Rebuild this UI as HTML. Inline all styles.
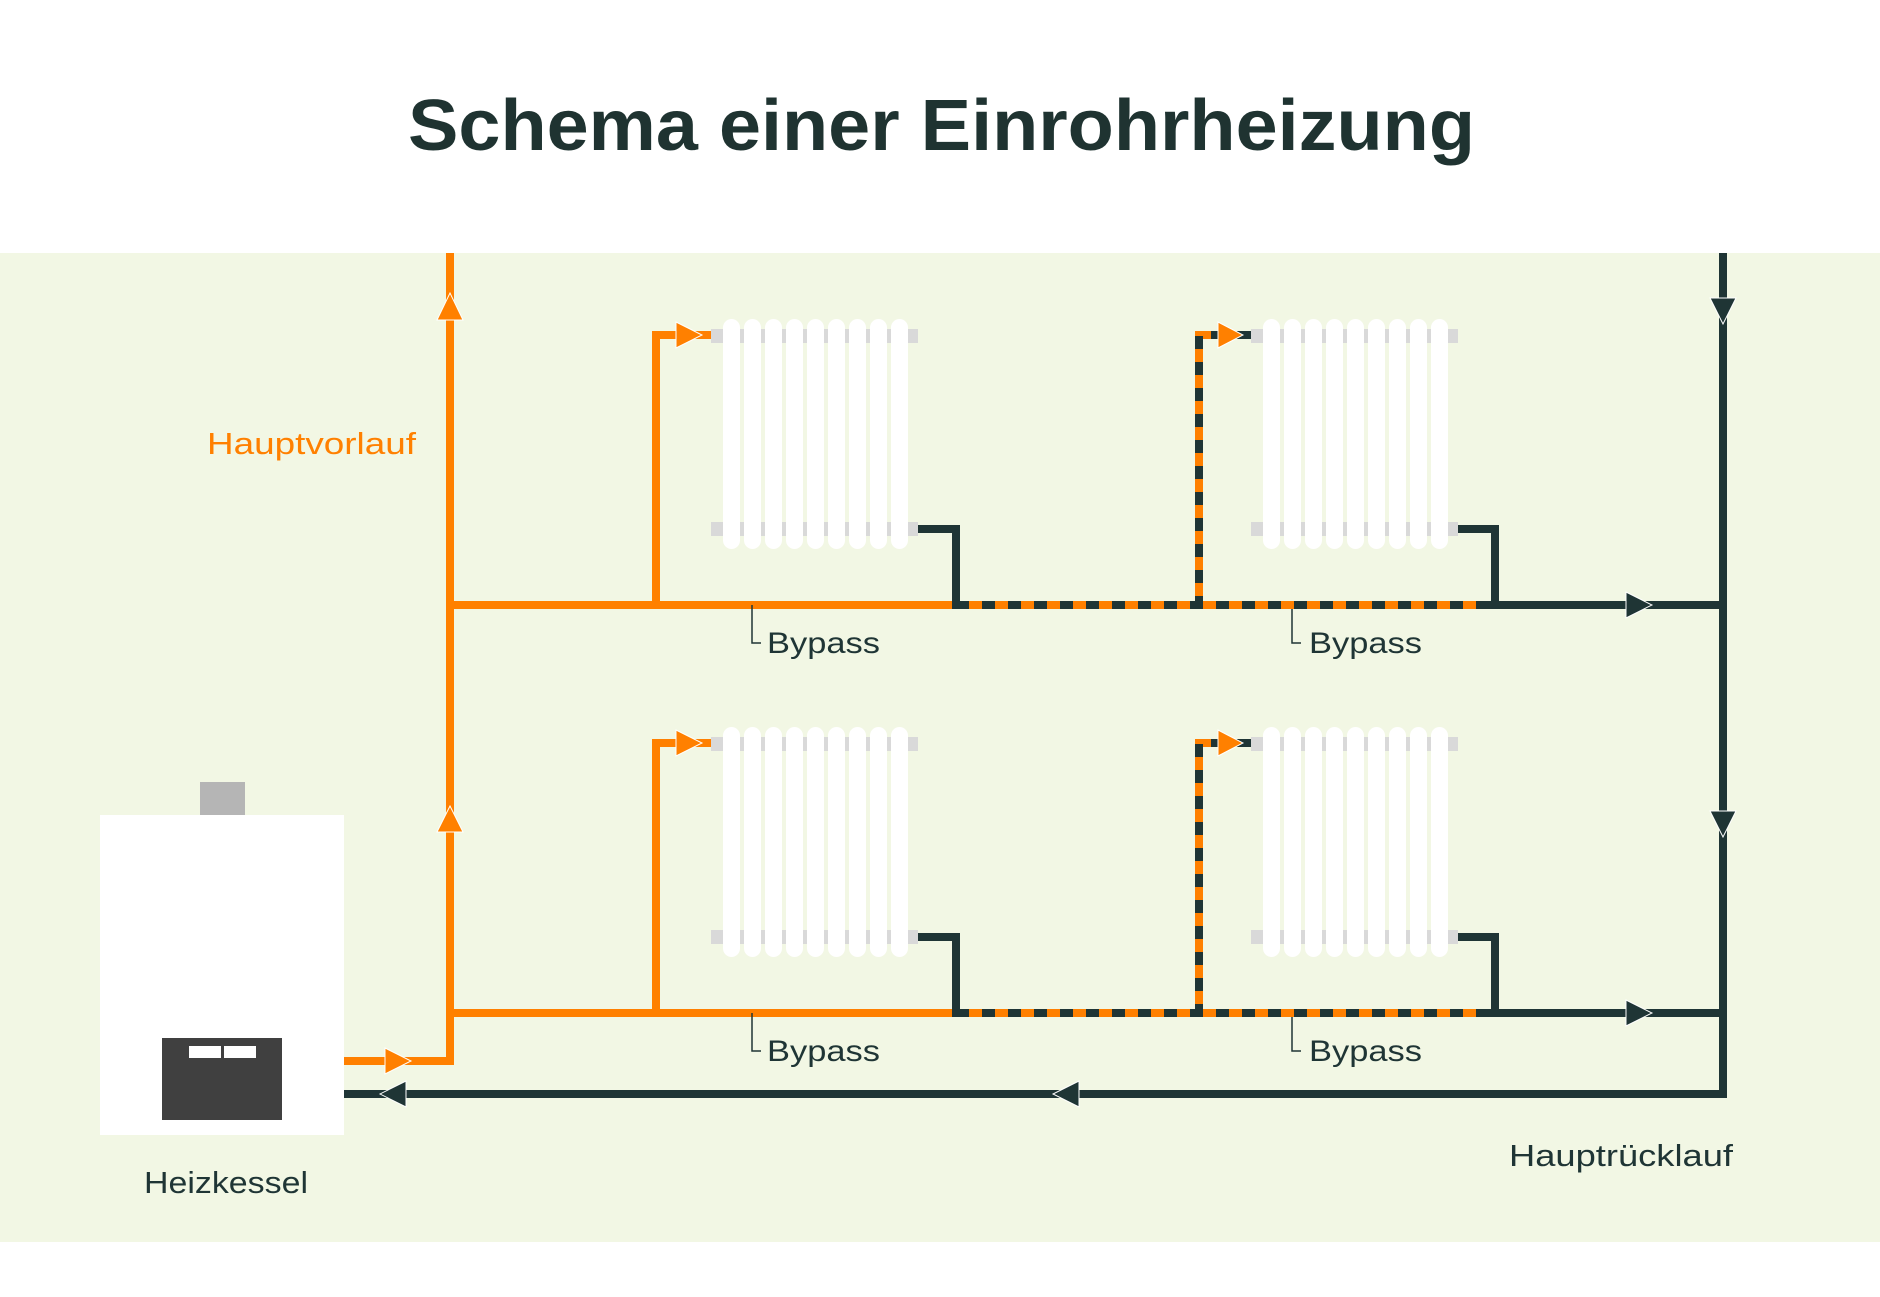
<!DOCTYPE html>
<html><head><meta charset="utf-8"><style>
html,body{margin:0;padding:0;background:#fff;}
svg{display:block;}
text{font-family:"Liberation Sans",sans-serif;}
</style></head><body>
<svg width="1880" height="1297" viewBox="0 0 1880 1297" xmlns="http://www.w3.org/2000/svg">
<defs>
<g id="rad">
  <rect x="711" y="329" width="207" height="14" fill="#d9d9d9"/>
  <rect x="711" y="522" width="207" height="14" fill="#d9d9d9"/>
  <g fill="#ffffff">
    <rect x="723" y="319" width="17" height="230" rx="8.5"/>
    <rect x="744" y="319" width="17" height="230" rx="8.5"/>
    <rect x="765" y="319" width="17" height="230" rx="8.5"/>
    <rect x="786" y="319" width="17" height="230" rx="8.5"/>
    <rect x="807" y="319" width="17" height="230" rx="8.5"/>
    <rect x="828" y="319" width="17" height="230" rx="8.5"/>
    <rect x="849" y="319" width="17" height="230" rx="8.5"/>
    <rect x="870" y="319" width="17" height="230" rx="8.5"/>
    <rect x="891" y="319" width="17" height="230" rx="8.5"/>
  </g>
</g>
<g id="row">
  <line x1="450" y1="605" x2="958" y2="605" stroke="#ff8000" stroke-width="8"/>
  <line x1="956" y1="605" x2="1487" y2="605" stroke="#ff8000" stroke-width="8"/>
  <line x1="956" y1="605" x2="1487" y2="605" stroke="#1f3535" stroke-width="8" stroke-dasharray="13 13"/>
  <line x1="1485" y1="605" x2="1723" y2="605" stroke="#1f3535" stroke-width="8"/>
  <polygon points="1626,592 1652,605 1626,618" fill="#1f3535" stroke="#fff" stroke-width="1"/>
  <polyline points="656,609 656,335 690,335" fill="none" stroke="#ff8000" stroke-width="8"/>
  <line x1="690" y1="335" x2="712" y2="335" stroke="#ff8000" stroke-width="8"/>
  <polygon points="676,322 702,335 676,348" fill="#ff8000" stroke="#fff" stroke-width="1"/>
  <use href="#rad"/>
  <polyline points="918,529 956,529 956,609" fill="none" stroke="#1f3535" stroke-width="8"/>
  <polyline points="1199,609 1199,335 1230,335" fill="none" stroke="#ff8000" stroke-width="8"/>
  <polyline points="1199,609 1199,335 1230,335" fill="none" stroke="#1f3535" stroke-width="8" stroke-dasharray="13 13"/>
  <line x1="1236" y1="335" x2="1253" y2="335" stroke="#1f3535" stroke-width="8"/>
  <polygon points="1218,322 1243,335 1218,348" fill="#ff8000" stroke="#fff" stroke-width="1"/>
  <use href="#rad" transform="translate(540,0)"/>
  <polyline points="1458,529 1495,529 1495,609" fill="none" stroke="#1f3535" stroke-width="8"/>
  <polyline points="752,605 752,643 761,643" fill="none" stroke="#1f3535" stroke-width="1.5"/>
  <text x="767" y="653" font-size="30" fill="#1f3535" textLength="113" lengthAdjust="spacingAndGlyphs">Bypass</text>
  <polyline points="1292,609 1292,643 1301,643" fill="none" stroke="#1f3535" stroke-width="1.5"/>
  <text x="1309" y="653" font-size="30" fill="#1f3535" textLength="113" lengthAdjust="spacingAndGlyphs">Bypass</text>
</g>
</defs>

<text x="408" y="150" font-size="72" font-weight="bold" fill="#1f3331" textLength="1067" lengthAdjust="spacingAndGlyphs">Schema einer Einrohrheizung</text>

<rect x="0" y="253" width="1880" height="989" fill="#f2f7e4"/>

<line x1="450" y1="253" x2="450" y2="1065" stroke="#ff8000" stroke-width="8"/>
<polygon points="437,320 450,293 463,320" fill="#ff8000" stroke="#fff" stroke-width="1"/>
<polygon points="437,832 450,806 463,832" fill="#ff8000" stroke="#fff" stroke-width="1"/>

<use href="#row"/>
<use href="#row" transform="translate(0,408)"/>

<line x1="1723" y1="253" x2="1723" y2="1098" stroke="#1f3535" stroke-width="8"/>
<polygon points="1710,298 1723,324 1736,298" fill="#1f3535" stroke="#fff" stroke-width="1"/>
<polygon points="1710,811 1723,837 1736,811" fill="#1f3535" stroke="#fff" stroke-width="1"/>

<line x1="1727" y1="1094" x2="344" y2="1094" stroke="#1f3535" stroke-width="8"/>
<polygon points="406,1081 380,1094 406,1107" fill="#1f3535" stroke="#fff" stroke-width="1"/>
<polygon points="1079,1081 1053,1094 1079,1107" fill="#1f3535" stroke="#fff" stroke-width="1"/>

<polyline points="344,1061 450,1061 450,1060" fill="none" stroke="#ff8000" stroke-width="8"/>
<polygon points="385,1048 411,1061 385,1074" fill="#ff8000" stroke="#fff" stroke-width="1"/>

<rect x="200" y="782" width="45" height="34" fill="#b5b5b5"/>
<rect x="100" y="815" width="244" height="320" fill="#ffffff"/>
<rect x="162" y="1038" width="120" height="82" fill="#404040"/>
<rect x="189" y="1046" width="32" height="12" fill="#ffffff"/>
<rect x="224" y="1046" width="32" height="12" fill="#ffffff"/>

<text x="207" y="454" font-size="31" fill="#ff8000" textLength="209" lengthAdjust="spacingAndGlyphs">Hauptvorlauf</text>
<text x="144" y="1193" font-size="31" fill="#1f3535" textLength="164" lengthAdjust="spacingAndGlyphs">Heizkessel</text>
<text x="1509" y="1166" font-size="31" fill="#1f3535" textLength="224" lengthAdjust="spacingAndGlyphs">Hauptrücklauf</text>
</svg>
</body></html>
